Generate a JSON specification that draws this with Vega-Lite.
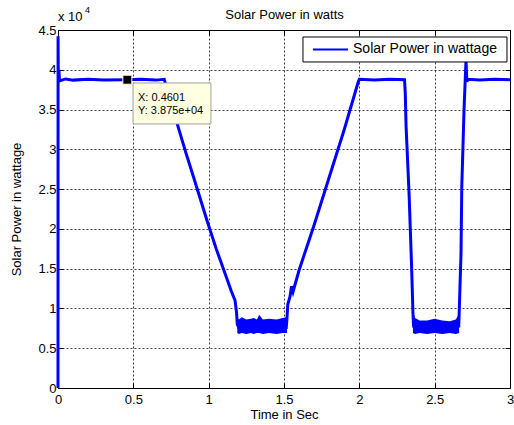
{
  "$schema": "https://vega.github.io/schema/vega-lite/v6.json",
  "width": 452,
  "height": 358,
  "autosize": {"type": "none"},
  "padding": {"left": 58, "top": 30, "right": 4, "bottom": 37},
  "background": "white",
  "config": {
    "font": "Liberation Sans",
    "view": {"stroke": "black", "strokeWidth": 1},
    "axis": {
      "labelFont": "Liberation Sans",
      "labelFontSize": 13,
      "labelColor": "black",
      "labelFlush": false,
      "titleFont": "Liberation Sans",
      "titleFontSize": 13,
      "titleFontWeight": "normal",
      "titleColor": "black",
      "domainColor": "black",
      "tickColor": "black",
      "tickSize": -5,
      "gridColor": "black",
      "gridDash": [2, 2],
      "gridOpacity": 0.75
    }
  },
  "datasets": {
    "power": [
      {"t": 0, "v": 0},
      {"t": 0.0005, "v": 44200},
      {"t": 0.002, "v": 39000},
      {"t": 0.006, "v": 40000},
      {"t": 0.01, "v": 38600},
      {"t": 0.05, "v": 38850},
      {"t": 0.1, "v": 38700},
      {"t": 0.2, "v": 38800},
      {"t": 0.3, "v": 38700},
      {"t": 0.4601, "v": 38750},
      {"t": 0.55, "v": 38800},
      {"t": 0.65, "v": 38700},
      {"t": 0.705, "v": 38800},
      {"t": 0.72, "v": 37800},
      {"t": 0.79, "v": 33300},
      {"t": 0.85, "v": 29500},
      {"t": 0.9, "v": 26500},
      {"t": 0.99, "v": 21000},
      {"t": 1.05, "v": 17500},
      {"t": 1.12, "v": 13800},
      {"t": 1.15, "v": 12200},
      {"t": 1.175, "v": 11000},
      {"t": 1.185, "v": 9500},
      {"t": 1.19, "v": 8000},
      {"t": 1.2, "v": 7600},
      {"t": 1.35, "v": 7700},
      {"t": 1.515, "v": 7600},
      {"t": 1.52, "v": 8800},
      {"t": 1.525, "v": 10500},
      {"t": 1.54, "v": 11500},
      {"t": 1.55, "v": 12800},
      {"t": 1.56, "v": 12100},
      {"t": 1.6, "v": 14800},
      {"t": 1.7, "v": 20500},
      {"t": 1.8, "v": 26500},
      {"t": 1.9, "v": 32500},
      {"t": 1.99, "v": 38300},
      {"t": 2.0, "v": 38800},
      {"t": 2.1, "v": 38700},
      {"t": 2.2, "v": 38800},
      {"t": 2.3, "v": 38750},
      {"t": 2.305, "v": 37000},
      {"t": 2.31, "v": 33000},
      {"t": 2.33, "v": 24500},
      {"t": 2.347, "v": 15200},
      {"t": 2.356, "v": 9400},
      {"t": 2.36, "v": 7800},
      {"t": 2.5, "v": 7700},
      {"t": 2.66, "v": 7800},
      {"t": 2.662, "v": 9000},
      {"t": 2.675, "v": 17000},
      {"t": 2.68, "v": 25300},
      {"t": 2.695, "v": 35000},
      {"t": 2.708, "v": 41200},
      {"t": 2.714, "v": 38500},
      {"t": 2.72, "v": 38800},
      {"t": 2.8, "v": 38700},
      {"t": 2.9, "v": 38800},
      {"t": 3.0, "v": 38750}
    ],
    "ripple": [
      {"seg": "a", "t": 1.19, "lo": 6900, "hi": 8800},
      {"seg": "a", "t": 1.2, "lo": 6800, "hi": 8600},
      {"seg": "a", "t": 1.22, "lo": 6900, "hi": 8900},
      {"seg": "a", "t": 1.25, "lo": 6800, "hi": 8600},
      {"seg": "a", "t": 1.28, "lo": 6900, "hi": 8700},
      {"seg": "a", "t": 1.3, "lo": 6800, "hi": 8800},
      {"seg": "a", "t": 1.32, "lo": 6900, "hi": 8600},
      {"seg": "a", "t": 1.335, "lo": 6900, "hi": 9200},
      {"seg": "a", "t": 1.36, "lo": 6800, "hi": 8600},
      {"seg": "a", "t": 1.4, "lo": 6900, "hi": 8700},
      {"seg": "a", "t": 1.45, "lo": 6800, "hi": 8600},
      {"seg": "a", "t": 1.49, "lo": 6900, "hi": 8800},
      {"seg": "a", "t": 1.52, "lo": 6900, "hi": 8900},
      {"seg": "b", "t": 2.356, "lo": 6900, "hi": 9500},
      {"seg": "b", "t": 2.37, "lo": 6800, "hi": 8800},
      {"seg": "b", "t": 2.4, "lo": 6900, "hi": 8500},
      {"seg": "b", "t": 2.45, "lo": 6800, "hi": 8500},
      {"seg": "b", "t": 2.5, "lo": 6900, "hi": 8700},
      {"seg": "b", "t": 2.55, "lo": 6800, "hi": 8500},
      {"seg": "b", "t": 2.6, "lo": 6900, "hi": 8400},
      {"seg": "b", "t": 2.64, "lo": 6800, "hi": 8600},
      {"seg": "b", "t": 2.662, "lo": 6900, "hi": 9300}
    ],
    "tip": [
      {"t": 0.4601, "v": 38750, "x0": 0.498, "x1": 1.015, "y0": 33190, "y1": 38340, "tx": 0.531, "line1": "X: 0.4601", "line2": "Y: 3.875e+04", "y1text": 36450, "y2text": 34820}
    ],
    "key": [
      {"x0": 1.626, "x1": 2.98, "y0": 40980, "y1": 44120, "lx0": 1.692, "lx1": 1.925, "ly": 42550, "tx": 1.958, "label": "Solar Power in wattage"}
    ],
    "exponent": [
      {"t": 0, "v": 45000}
    ]
  },
  "resolve": {"axis": {"x": "independent", "y": "independent"}},
  "layer": [
    {
      "data": {"name": "ripple"},
      "mark": {"type": "area", "color": "#0000ff", "opacity": 1},
      "encoding": {
        "x": {
          "field": "t", "type": "quantitative",
          "scale": {"domain": [0, 3], "nice": false, "zero": false},
          "axis": {"values": [0, 0.5, 1, 1.5, 2, 2.5, 3], "format": "~g", "title": "Time in Sec", "titlePadding": 2, "labelPadding": 10, "grid": true, "domain": false}
        },
        "y": {
          "field": "lo", "type": "quantitative",
          "scale": {"domain": [0, 45000], "nice": false},
          "axis": {"values": [0, 5000, 10000, 15000, 20000, 25000, 30000, 35000, 40000, 45000], "labelExpr": "datum.value / 10000", "title": "Solar Power in wattage", "titlePadding": 14, "labelPadding": 7, "grid": true, "domain": false}
        },
        "y2": {"field": "hi"},
        "detail": {"field": "seg"}
      }
    },
    {
      "data": {"name": "power"},
      "mark": {"type": "line", "strokeWidth": 3, "color": "#0000ff"},
      "encoding": {
        "x": {"field": "t", "type": "quantitative", "scale": {"domain": [0, 3], "nice": false, "zero": false}, "axis": null},
        "y": {"field": "v", "type": "quantitative", "scale": {"domain": [0, 45000], "nice": false}, "axis": null},
        "order": {"field": "t"}
      }
    },
    {
      "data": {"name": "exponent"},
      "mark": {"type": "point", "opacity": 0},
      "encoding": {
        "x": {
          "field": "t", "type": "quantitative",
          "scale": {"domain": [0, 3], "nice": false, "zero": false},
          "axis": {"orient": "top", "values": [0, 0.5, 1, 1.5, 2, 2.5, 3], "labels": false, "title": "Solar Power in watts", "titlePadding": 8, "grid": false, "domain": false}
        },
        "y": {
          "field": "v", "type": "quantitative",
          "scale": {"domain": [0, 45000], "nice": false},
          "axis": {"orient": "right", "values": [0, 5000, 10000, 15000, 20000, 25000, 30000, 35000, 40000, 45000], "labels": false, "title": null, "grid": false, "domain": false}
        }
      }
    },
    {
      "data": {"name": "key"},
      "mark": {"type": "rect", "fill": "white", "stroke": "black", "strokeWidth": 1},
      "encoding": {
        "x": {"field": "x0", "type": "quantitative", "axis": null},
        "x2": {"field": "x1"},
        "y": {"field": "y0", "type": "quantitative", "axis": null},
        "y2": {"field": "y1"}
      }
    },
    {
      "data": {"name": "key"},
      "mark": {"type": "rule", "color": "#0000ff", "strokeWidth": 2},
      "encoding": {
        "x": {"field": "lx0", "type": "quantitative", "axis": null},
        "x2": {"field": "lx1"},
        "y": {"field": "ly", "type": "quantitative", "axis": null}
      }
    },
    {
      "data": {"name": "key"},
      "mark": {"type": "text", "align": "left", "baseline": "middle", "font": "Liberation Sans", "fontSize": 14, "color": "black"},
      "encoding": {
        "x": {"field": "tx", "type": "quantitative", "axis": null},
        "y": {"field": "ly", "type": "quantitative", "axis": null},
        "text": {"field": "label"}
      }
    },
    {
      "data": {"name": "tip"},
      "mark": {"type": "rect", "fill": "#ffffe1", "stroke": "#a0a0a0", "strokeWidth": 1},
      "encoding": {
        "x": {"field": "x0", "type": "quantitative", "axis": null},
        "x2": {"field": "x1"},
        "y": {"field": "y0", "type": "quantitative", "axis": null},
        "y2": {"field": "y1"}
      }
    },
    {
      "data": {"name": "tip"},
      "mark": {"type": "text", "align": "left", "baseline": "middle", "font": "Liberation Sans", "fontSize": 11, "color": "black"},
      "encoding": {
        "x": {"field": "tx", "type": "quantitative", "axis": null},
        "y": {"field": "y1text", "type": "quantitative", "axis": null},
        "text": {"field": "line1"}
      }
    },
    {
      "data": {"name": "tip"},
      "mark": {"type": "text", "align": "left", "baseline": "middle", "font": "Liberation Sans", "fontSize": 11, "color": "black"},
      "encoding": {
        "x": {"field": "tx", "type": "quantitative", "axis": null},
        "y": {"field": "y2text", "type": "quantitative", "axis": null},
        "text": {"field": "line2"}
      }
    },
    {
      "data": {"name": "tip"},
      "mark": {"type": "square", "filled": true, "fill": "black", "stroke": "#ffffe1", "strokeWidth": 1, "size": 81, "opacity": 1},
      "encoding": {
        "x": {"field": "t", "type": "quantitative", "axis": null},
        "y": {"field": "v", "type": "quantitative", "axis": null}
      }
    },
    {
      "data": {"name": "exponent"},
      "mark": {"type": "text", "text": "x 10", "align": "left", "baseline": "middle", "font": "Liberation Sans", "fontSize": 13, "color": "black", "dy": -13},
      "encoding": {
        "x": {"field": "t", "type": "quantitative", "axis": null},
        "y": {"field": "v", "type": "quantitative", "axis": null}
      }
    },
    {
      "data": {"name": "exponent"},
      "mark": {"type": "text", "text": "4", "align": "left", "baseline": "middle", "font": "Liberation Sans", "fontSize": 9, "color": "black", "dx": 27, "dy": -20},
      "encoding": {
        "x": {"field": "t", "type": "quantitative", "axis": null},
        "y": {"field": "v", "type": "quantitative", "axis": null}
      }
    }
  ]
}
